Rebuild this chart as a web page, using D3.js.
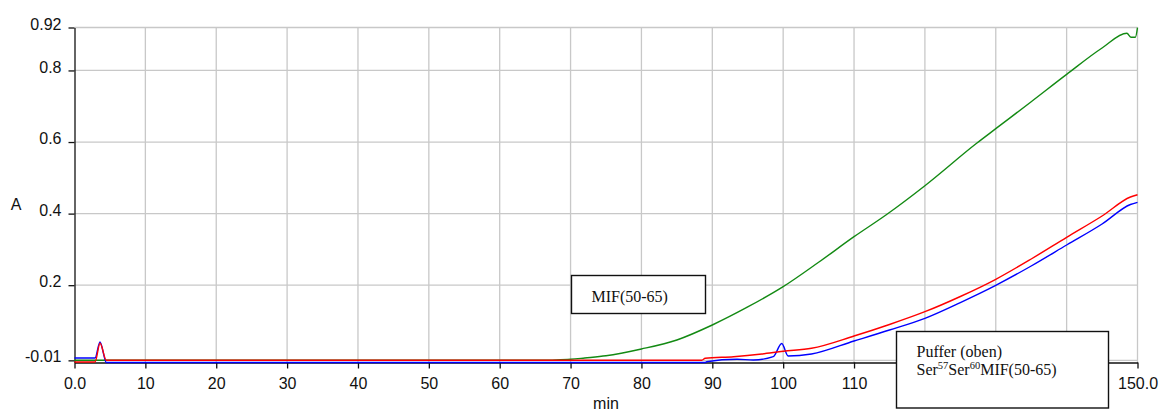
<!DOCTYPE html>
<html>
<head>
<meta charset="utf-8">
<script src="https://cdn.jsdelivr.net/npm/d3@7"></script>
<style>
  html, body { margin: 0; padding: 0; background: #fff; }
  svg { display: block; }
</style>
</head>
<body>
<svg id="chart" width="1161" height="414"></svg>
<script>
// ---- data ----
const xTicks = [0, 10, 20, 30, 40, 50, 60, 70, 80, 90, 100, 110, 120, 130, 140, 150];
// labels 120-140 are hidden behind the legend box in the original
const xTickLabels = ["0.0", "10", "20", "30", "40", "50", "60", "70", "80", "90", "100", "110", "", "", "", "150.0"];
const yTicks = [-0.01, 0.2, 0.4, 0.6, 0.8, 0.92];
const yTickLabels = ["-0.01", "0.2", "0.4", "0.6", "0.8", "0.92"];

const greenTime = [0, 66, 68, 70, 72, 75, 80, 85, 90, 95, 100, 105, 110, 114.5, 120, 127.3, 130, 135, 140, 145, 148.5, 149.1, 149.7, 150];
const greenA = [-0.0099, -0.0099, -0.009, -0.0071, -0.0034, 0.0027, 0.0217, 0.0469, 0.0888, 0.1391, 0.1958, 0.2640, 0.3355, 0.3961, 0.478, 0.5965, 0.6373, 0.7127, 0.789, 0.8627, 0.9038, 0.8926, 0.8926, 0.9195];

const redTime = [0, 2.9, 3.6, 4.5, 88.5, 89, 93, 97, 100, 104, 110, 115, 120, 125, 130, 135, 140, 145, 149, 150];
const redA = [-0.0146, -0.0146, 0.0376, -0.0099, -0.0099, -0.0043, 0.0002, 0.0078, 0.0153, 0.0237, 0.058, 0.0902, 0.1259, 0.1684, 0.2165, 0.2732, 0.3338, 0.3933, 0.4464, 0.4528];

const blueTime = [0, 2.9, 3.6, 4.5, 89, 89.2, 93.5, 95.8, 98.6, 99.8, 100.7, 104, 110, 115, 120, 125, 130, 135, 140, 145, 149, 150];
const blueA = [-0.0034, -0.0034, 0.0413, -0.016, -0.016, -0.0138, -0.0071, -0.009, 0.0002, 0.0371, 0.0022, 0.0078, 0.0441, 0.0748, 0.1075, 0.1516, 0.1997, 0.2536, 0.3123, 0.371, 0.4255, 0.4316];

const seriesColors = ["#138a13", "#0000ff", "#ff0000"];

// ---- layout ----
const svg = d3.select("#chart");
const x = d3.scaleLinear().domain([0, 150]).range([74.5, 1137.5]);
const y = d3.scaleLinear().domain([-0.016, 0.92]).range([362.5, 27.5]);
const sansFont = "'Liberation Sans', Arial, Helvetica, sans-serif";
const serifFont = "'Liberation Serif', 'Times New Roman', serif";

// gridlines
const grid = svg.append("g");
grid.selectAll("line.v").data(xTicks.filter(d => d > 0)).enter().append("line")
  .attr("x1", d => x(d)).attr("x2", d => x(d))
  .attr("y1", y(0.92)).attr("y2", y(-0.016))
  .attr("stroke", "#c8c8c8").attr("stroke-width", 1.3);
grid.selectAll("line.h").data(yTicks).enter().append("line")
  .attr("x1", x(0)).attr("x2", x(150))
  .attr("y1", d => y(d)).attr("y2", d => y(d))
  .attr("stroke", "#c8c8c8").attr("stroke-width", 1.3);

// axes
const xAxis = d3.axisBottom(x).tickValues(xTicks).tickFormat((d, i) => xTickLabels[i]).tickSize(6).tickPadding(9).tickSizeOuter(0);
const gx = svg.append("g").attr("transform", `translate(0,${y(-0.016)})`).call(xAxis);
gx.select(".domain").attr("stroke", "#111").attr("stroke-width", 1.3);
gx.selectAll(".tick line").attr("stroke", "#111").attr("stroke-width", 1.3);
gx.selectAll(".tick text").attr("font-family", sansFont).attr("font-size", 16).attr("fill", "#111");

const yAxis = d3.axisLeft(y).tickValues(yTicks).tickFormat((d, i) => yTickLabels[i]).tickSize(6).tickPadding(7).tickSizeOuter(0);
const gy = svg.append("g").attr("transform", `translate(${x(0)},0)`).call(yAxis);
gy.select(".domain").attr("stroke", "#111").attr("stroke-width", 1.3);
gy.selectAll(".tick line").attr("stroke", "#111").attr("stroke-width", 1.3);
gy.selectAll(".tick text").attr("font-family", sansFont).attr("font-size", 16).attr("fill", "#111")
  .attr("dy", "0.1em");

// axis titles
svg.append("text").attr("x", 16).attr("y", 209.5).attr("text-anchor", "middle")
  .attr("font-family", sansFont).attr("font-size", 16).attr("fill", "#111").text("A");
svg.append("text").attr("x", x(75)).attr("y", 409).attr("text-anchor", "middle")
  .attr("font-family", sansFont).attr("font-size", 16).attr("fill", "#111").text("min");

// lines
const line = d3.line().x(d => x(d[0])).y(d => y(d[1])).curve(d3.curveMonotoneX);
const series = [
  d3.zip(greenTime, greenA),
  d3.zip(blueTime, blueA),
  d3.zip(redTime, redA)
];
svg.append("g").selectAll("path").data(series).enter().append("path")
  .attr("d", line)
  .attr("fill", "none")
  .attr("stroke", (d, i) => seriesColors[i])
  .attr("stroke-width", 1.4)
  .attr("stroke-linejoin", "round");

// annotation boxes
const box1 = svg.append("g");
box1.append("rect").attr("x", 571.5).attr("y", 275.5).attr("width", 134).attr("height", 38)
  .attr("fill", "#fff").attr("stroke", "#111").attr("stroke-width", 1.4);
box1.append("text").attr("x", 591.5).attr("y", 301.5)
  .attr("font-family", serifFont).attr("font-size", 16).attr("fill", "#111").text("MIF(50-65)");

const box2 = svg.append("g");
box2.append("rect").attr("x", 896.5).attr("y", 331.5).attr("width", 212).attr("height", 76.5)
  .attr("fill", "#fff").attr("stroke", "#111").attr("stroke-width", 1.4);
box2.append("text").attr("x", 916.5).attr("y", 356.5)
  .attr("font-family", serifFont).attr("font-size", 16).attr("fill", "#111").text("Puffer (oben)");
const t2 = box2.append("text").attr("x", 916.5).attr("y", 375)
  .attr("font-family", serifFont).attr("font-size", 16).attr("fill", "#111");
t2.append("tspan").text("Ser");
t2.append("tspan").attr("font-size", 10.5).attr("dy", -6).text("57");
t2.append("tspan").attr("dy", 6).text("Ser");
t2.append("tspan").attr("font-size", 10.5).attr("dy", -6).text("60");
t2.append("tspan").attr("dy", 6).text("MIF(50-65)");
</script>
</body>
</html>
